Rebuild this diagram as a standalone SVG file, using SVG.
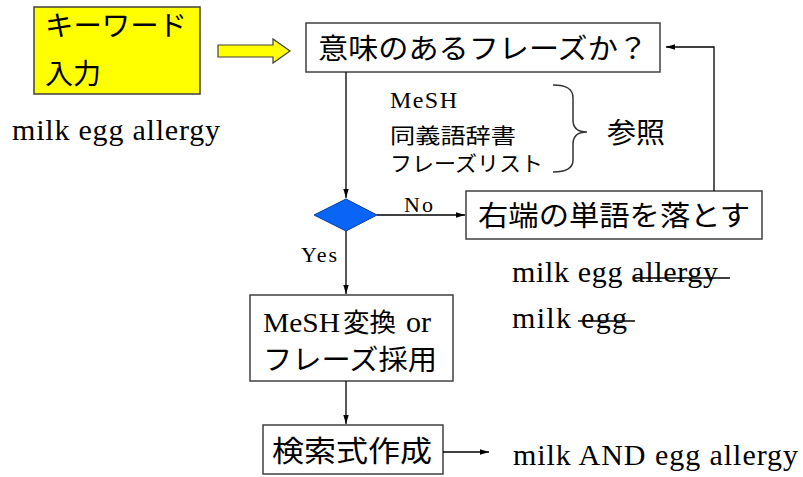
<svg xmlns="http://www.w3.org/2000/svg" width="803" height="477" viewBox="0 0 803 477">
<style>
.box{fill:#fff;stroke:#404040;stroke-width:1.5}
.jp{font-family:"Noto Sans CJK JP",sans-serif;fill:#000}
.en{font-family:"Liberation Serif","Noto Sans CJK JP",serif;fill:#000}
.con{fill:none;stroke:#000;stroke-width:1.3}
.strike{stroke:#000;stroke-width:1.5}
</style>
<defs>
<marker id="ah" viewBox="0 0 10 6" refX="10" refY="3" markerWidth="9" markerHeight="6" orient="auto" markerUnits="userSpaceOnUse">
<path d="M0,0 L10,3 L0,6 z" fill="#000"/>
</marker>
</defs>
<rect width="803" height="477" fill="#fff"/>

<g id="input">
<rect x="34" y="7" width="166" height="87" fill="#ffff00" stroke="#404040" stroke-width="1.5"/>
<text class="jp" x="45" y="36" font-size="28" textLength="142" lengthAdjust="spacingAndGlyphs">キーワード</text>
<text class="jp" x="45" y="84" font-size="28">入力</text>
</g>

<g id="bigarrow">
<polygon points="218,45 273,45 273,39 290,51 273,63 273,57 218,57" fill="#ffff00" stroke="#404040" stroke-width="1.2"/>
</g>

<g id="example1">
<text class="en" x="12" y="140" font-size="30" textLength="208" lengthAdjust="spacing">milk egg allergy</text>
</g>

<g id="phrase">
<rect class="box" x="306" y="23" width="354" height="49"/>
<text class="jp" x="318" y="59" font-size="28" textLength="330" lengthAdjust="spacingAndGlyphs">意味のあるフレーズか？</text>
</g>

<g id="refs">
<text class="en" x="390" y="108" font-size="24" textLength="67" lengthAdjust="spacing">MeSH</text>
<text class="jp" x="390" y="143" font-size="21" textLength="126" lengthAdjust="spacingAndGlyphs">同義語辞書</text>
<text class="jp" x="390" y="171" font-size="21" textLength="153" lengthAdjust="spacingAndGlyphs">フレーズリスト</text>
<path d="M553,85 C567,85 573,89 573,98 L573,120 C573,128 578,132 587,132 C578,132 573,136 573,144 L573,160 C573,168 567,172 553,172" fill="none" stroke="#333" stroke-width="1.5"/>
<text class="jp" x="607" y="143" font-size="28" textLength="58" lengthAdjust="spacingAndGlyphs">参照</text>
</g>

<g id="decision">
<polygon points="346,199 377,215 346,231 314,215" fill="#0a64f5" stroke="#0a3ca0" stroke-width="1"/>
</g>

<g id="drop">
<rect class="box" x="466" y="191" width="296" height="48"/>
<text class="jp" x="478" y="226" font-size="28" textLength="272" lengthAdjust="spacingAndGlyphs">右端の単語を落とす</text>
</g>

<g id="example2">
<text class="en" x="512" y="282" font-size="30" textLength="206" lengthAdjust="spacing">milk egg allergy</text>
<line class="strike" x1="633" y1="278" x2="730" y2="278"/>
<text class="en" x="512" y="328" font-size="30" textLength="115" lengthAdjust="spacing">milk egg</text>
<line class="strike" x1="578" y1="321" x2="635" y2="321"/>
</g>

<g id="mesh">
<rect class="box" x="250" y="295" width="203" height="86"/>
<text class="en" x="263" y="332" font-size="28" textLength="77" lengthAdjust="spacingAndGlyphs">MeSH</text>
<text class="jp" x="343" y="332" font-size="26" textLength="53" lengthAdjust="spacingAndGlyphs">変換</text>
<text class="en" x="406" y="332" font-size="30">or</text>
<text class="jp" x="263" y="370" font-size="28" textLength="174" lengthAdjust="spacingAndGlyphs">フレーズ採用</text>
</g>

<g id="query">
<rect class="box" x="263" y="425" width="180" height="49"/>
<text class="jp" x="272" y="462" font-size="29" textLength="160" lengthAdjust="spacingAndGlyphs">検索式作成</text>
</g>

<g id="result">
<text class="en" x="513" y="465" font-size="30" textLength="285" lengthAdjust="spacing">milk AND egg allergy</text>
</g>

<g id="connectors">
<path class="con" d="M346,72 V198" marker-end="url(#ah)"/>
<path class="con" d="M377,215 H465" marker-end="url(#ah)"/>
<path class="con" d="M346,231 V294" marker-end="url(#ah)"/>
<path class="con" d="M346,381 V424" marker-end="url(#ah)"/>
<path class="con" d="M443,452 H489" marker-end="url(#ah)"/>
<path class="con" d="M714,191 V47 H666" marker-end="url(#ah)"/>
<text class="en" x="404" y="212" font-size="22" textLength="29" lengthAdjust="spacing">No</text>
<text class="en" x="301" y="262" font-size="22" textLength="36" lengthAdjust="spacing">Yes</text>
</g>
</svg>
